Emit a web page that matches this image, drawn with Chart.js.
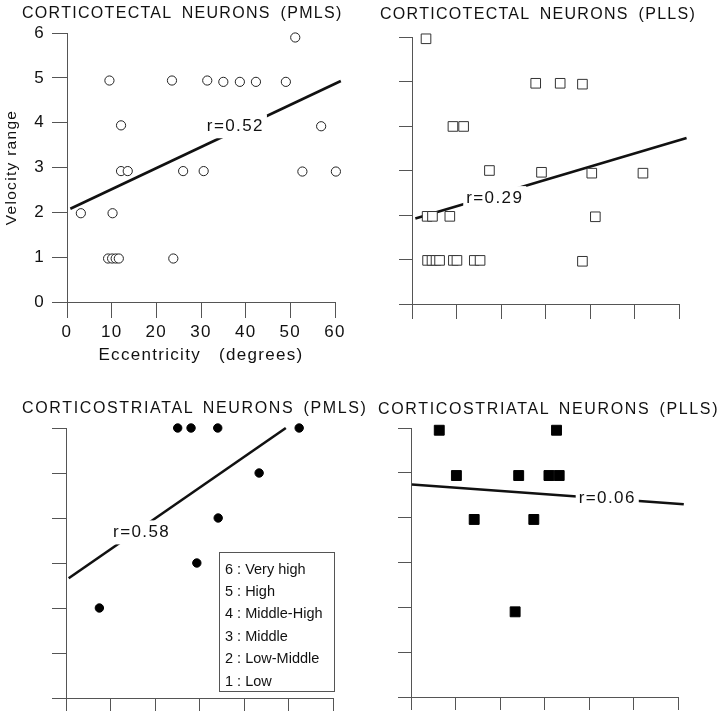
<!DOCTYPE html>
<html><head><meta charset="utf-8">
<script src="https://cdn.jsdelivr.net/npm/chart.js@4.4.0/dist/chart.umd.min.js"></script>
<style>
body{margin:0;background:#fff;}
#wrap{position:relative;width:720px;height:719px;overflow:hidden;background:#fff;}
canvas{position:absolute;}
.ttl{position:absolute;font-family:"Liberation Sans",Arial,sans-serif;font-size:16px;line-height:16px;color:#111;white-space:pre;}
.t1{letter-spacing:1.3px;word-spacing:4px;}
.t2{letter-spacing:1.65px;word-spacing:3px;}
</style></head><body>
<div id="wrap">
<canvas id="c1" width="360" height="370" style="left:0;top:0"></canvas>
<canvas id="c2" width="360" height="370" style="left:360px;top:0"></canvas>
<canvas id="c3" width="360" height="359" style="left:0;top:360px"></canvas>
<canvas id="c4" width="360" height="359" style="left:360px;top:360px"></canvas>
<div class="ttl t1" style="left:22px;top:5px">CORTICOTECTAL NEURONS (PMLS)</div>
<div class="ttl t1" style="left:380px;top:6px">CORTICOTECTAL NEURONS (PLLS)</div>
<div class="ttl t2" style="left:22px;top:400px">CORTICOSTRIATAL NEURONS (PMLS)</div>
<div class="ttl t2" style="left:378px;top:401px">CORTICOSTRIATAL NEURONS (PLLS)</div>
</div>
<script>
// ---- data ----
const yTickValues = [0, 1, 2, 3, 4, 5, 6];
const xTickValues = [0, 10, 20, 30, 40, 50, 60];

const tectalPMLS_ecc = [51.1, 9.5, 23.5, 31.4, 35.0, 38.7, 42.3, 49.0, 12.1, 56.9, 12.1, 13.6, 26.0, 30.6, 52.7, 60.2, 3.1, 10.2, 9.2, 10.1, 10.9, 11.6, 23.8];
const tectalPMLS_vel = [5.9, 4.94, 4.94, 4.94, 4.91, 4.91, 4.91, 4.91, 3.94, 3.92, 2.92, 2.92, 2.92, 2.92, 2.91, 2.91, 1.98, 1.98, 0.97, 0.97, 0.97, 0.97, 0.97];
const tectalPMLS_fitEcc = [0.75, 61.3];
const tectalPMLS_fitVel = [2.08, 4.93];

const tectalPLLS_ecc = [3.15, 27.8, 33.3, 38.3, 9.2, 11.6, 17.4, 29.1, 40.4, 51.9, 3.4, 4.6, 8.5, 41.2, 3.5, 4.5, 5.4, 6.2, 9.3, 10.1, 14.0, 15.3, 38.3];
const tectalPLLS_vel = [5.96, 4.96, 4.96, 4.94, 3.99, 3.99, 3.0, 2.96, 2.94, 2.94, 1.97, 1.97, 1.97, 1.96, 0.98, 0.98, 0.98, 0.98, 0.98, 0.98, 0.98, 0.98, 0.96];
const tectalPLLS_fitEcc = [0.75, 61.7];
const tectalPLLS_fitVel = [1.92, 3.73];

const striatalPMLS_ecc = [7.5, 29.4, 34.2, 43.4, 25.1, 28.1, 34.1, 52.4];
const striatalPMLS_vel = [2.0, 3.0, 4.0, 5.0, 6.0, 6.0, 6.0, 6.0];
const striatalPMLS_fitEcc = [0.6, 49.4];
const striatalPMLS_fitVel = [2.66, 6.0];

const striatalPLLS_ecc = [6.35, 32.7, 10.2, 24.2, 31.0, 33.3, 14.2, 27.6, 23.4];
const striatalPLLS_vel = [5.95, 5.95, 4.94, 4.94, 4.94, 4.94, 3.96, 3.96, 1.90];
const striatalPLLS_fitEcc = [0.2, 61.3];
const striatalPLLS_fitVel = [4.74, 4.30];

const rLabels = ['r=0.52', 'r=0.29', 'r=0.58', 'r=0.06'];
const levelLabels = ['6 : Very high', '5 : High', '4 : Middle-High', '3 : Middle', '2 : Low-Middle', '1 : Low'];
const yAxisTitle = 'Velocity range';
const xAxisTitle = 'Eccentricity   (degrees)';

// ---- drawing ----
const F = '"Liberation Sans", Arial, sans-serif';
function pts(xs, ys) { return xs.map((x, i) => ({ x: x, y: ys[i] })); }

function rLabelPlugin(text, vx, vy) {
  return {
    id: 'rLabel',
    afterDatasetsDraw(chart) {
      const ctx = chart.ctx, sx = chart.scales.x, sy = chart.scales.y;
      const px = sx.getPixelForValue(vx), py = sy.getPixelForValue(vy);
      ctx.save();
      ctx.font = '17px ' + F;
      ctx.letterSpacing = '1.4px';
      const w = ctx.measureText(text).width;
      ctx.fillStyle = '#fff';
      ctx.fillRect(px - w / 2 - 3, py - 12, w + 6, 24);
      ctx.fillStyle = '#111';
      ctx.textAlign = 'center';
      ctx.textBaseline = 'middle';
      ctx.fillText(text, px, py);
      ctx.restore();
    }
  };
}

function levelBoxPlugin(lines, x0, y0, x1, y1) {
  return {
    id: 'levelBox',
    afterDatasetsDraw(chart) {
      const ctx = chart.ctx, sx = chart.scales.x, sy = chart.scales.y;
      const l = Math.round(sx.getPixelForValue(x0)), r = Math.round(sx.getPixelForValue(x1));
      const t = Math.round(sy.getPixelForValue(y0)), b = Math.round(sy.getPixelForValue(y1));
      ctx.save();
      ctx.fillStyle = '#fff';
      ctx.fillRect(l, t, r - l, b - t);
      ctx.strokeStyle = '#555';
      ctx.lineWidth = 1;
      ctx.strokeRect(l + 0.5, t + 0.5, r - l, b - t);
      ctx.fillStyle = '#111';
      ctx.font = '14.5px ' + F;
      ctx.textBaseline = 'middle';
      ctx.textAlign = 'left';
      lines.forEach((s, i) => ctx.fillText(s, l + 6, t + 17.5 + i * 22.4));
      ctx.restore();
    }
  };
}

const spacingPlugin = {
  id: 'spacing',
  beforeDraw(c) { c.ctx.letterSpacing = '1.3px'; },
  afterDraw(c) { c.ctx.letterSpacing = '0px'; }
};

function makeChart(id, o) {
  const datasets = [
    {
      data: pts(o.ecc, o.vel),
      pointStyle: o.style, pointRadius: o.radius, pointHoverRadius: o.radius,
      pointBorderWidth: 1, pointBorderColor: o.border, pointBackgroundColor: o.fill,
      showLine: false, clip: false
    },
    {
      data: pts(o.fitEcc, o.fitVel),
      showLine: true, pointRadius: 0, borderColor: '#111', borderWidth: 2.6,
      clip: false, fill: false
    }
  ];
  return new Chart(document.getElementById(id), {
    type: 'scatter',
    data: { datasets: datasets },
    plugins: o.plugins,
    options: {
      responsive: false, animation: false, devicePixelRatio: 1, events: [],
      layout: { padding: { top: o.padTop, right: o.padRight, left: 0, bottom: 0 } },
      plugins: { legend: { display: false }, tooltip: { enabled: false }, title: { display: false } },
      scales: {
        x: {
          type: 'linear', position: 'bottom', min: 0, max: 60,
          afterBuildTicks(s) { s.ticks = xTickValues.map(v => ({ value: v })); },
          ticks: { display: o.labels, font: { family: F, size: 17 }, color: '#111', padding: 4, maxRotation: 0, autoSkip: false },
          grid: { drawOnChartArea: false, drawTicks: true, tickLength: o.xTick, color: '#555', lineWidth: 1 },
          border: { display: true, color: '#555', width: 1 },
          title: { display: !!o.xTitle, text: o.xTitle || '', font: { family: F, size: 17 }, color: '#111', padding: { top: 0, bottom: 4 } },
          afterFit(s) { s.height = o.xH; s.paddingLeft = 0; s.paddingRight = 0; }
        },
        y: {
          type: 'linear', position: 'left', min: 0, max: 6,
          afterBuildTicks(s) { s.ticks = yTickValues.map(v => ({ value: v })); },
          ticks: { display: o.labels, font: { family: F, size: 17 }, color: '#111', padding: 7 },
          grid: { drawOnChartArea: false, drawTicks: true, tickLength: o.yTick, color: '#555', lineWidth: 1 },
          border: { display: true, color: '#555', width: 1 },
          title: { display: !!o.yTitle, text: o.yTitle || '', font: { family: F, size: 15.5 }, color: '#111', padding: { top: 2, bottom: 0 } },
          afterFit(s) { s.width = o.yW; s.paddingTop = 0; s.paddingBottom = 0; }
        }
      }
    }
  });
}

makeChart('c1', {
  ecc: tectalPMLS_ecc, vel: tectalPMLS_vel, fitEcc: tectalPMLS_fitEcc, fitVel: tectalPMLS_fitVel,
  style: 'circle', radius: 4.6, border: '#222', fill: '#fff',
  padTop: 33, padRight: 25, yW: 67, xH: 68, yTick: 15, xTick: 16, labels: true,
  yTitle: yAxisTitle, xTitle: xAxisTitle,
  plugins: [spacingPlugin, rLabelPlugin(rLabels[0], 37.7, 3.92)]
});
makeChart('c2', {
  ecc: tectalPLLS_ecc, vel: tectalPLLS_vel, fitEcc: tectalPLLS_fitEcc, fitVel: tectalPLLS_fitVel,
  style: 'rect', radius: 6.8, border: '#333', fill: '#fff',
  padTop: 37, padRight: 41, yW: 52, xH: 66, yTick: 13, xTick: 15, labels: false,
  plugins: [rLabelPlugin(rLabels[1], 18.6, 2.38)]
});
makeChart('c3', {
  ecc: striatalPMLS_ecc, vel: striatalPMLS_vel, fitEcc: striatalPMLS_fitEcc, fitVel: striatalPMLS_fitVel,
  style: 'circle', radius: 4.2, border: '#000', fill: '#000',
  padTop: 68, padRight: 27, yW: 66, xH: 21, yTick: 14, xTick: 13, labels: false,
  plugins: [rLabelPlugin(rLabels[2], 17.0, 3.68), levelBoxPlugin(levelLabels, 34.4, 3.25, 60.3, 0.15)]
});
makeChart('c4', {
  ecc: striatalPLLS_ecc, vel: striatalPLLS_vel, fitEcc: striatalPLLS_fitEcc, fitVel: striatalPLLS_fitVel,
  style: 'rect', radius: 7, border: '#000', fill: '#000',
  padTop: 68, padRight: 42, yW: 51, xH: 22, yTick: 13, xTick: 13, labels: false,
  plugins: [rLabelPlugin(rLabels[3], 44.1, 4.44)]
});
</script>
</body></html>
